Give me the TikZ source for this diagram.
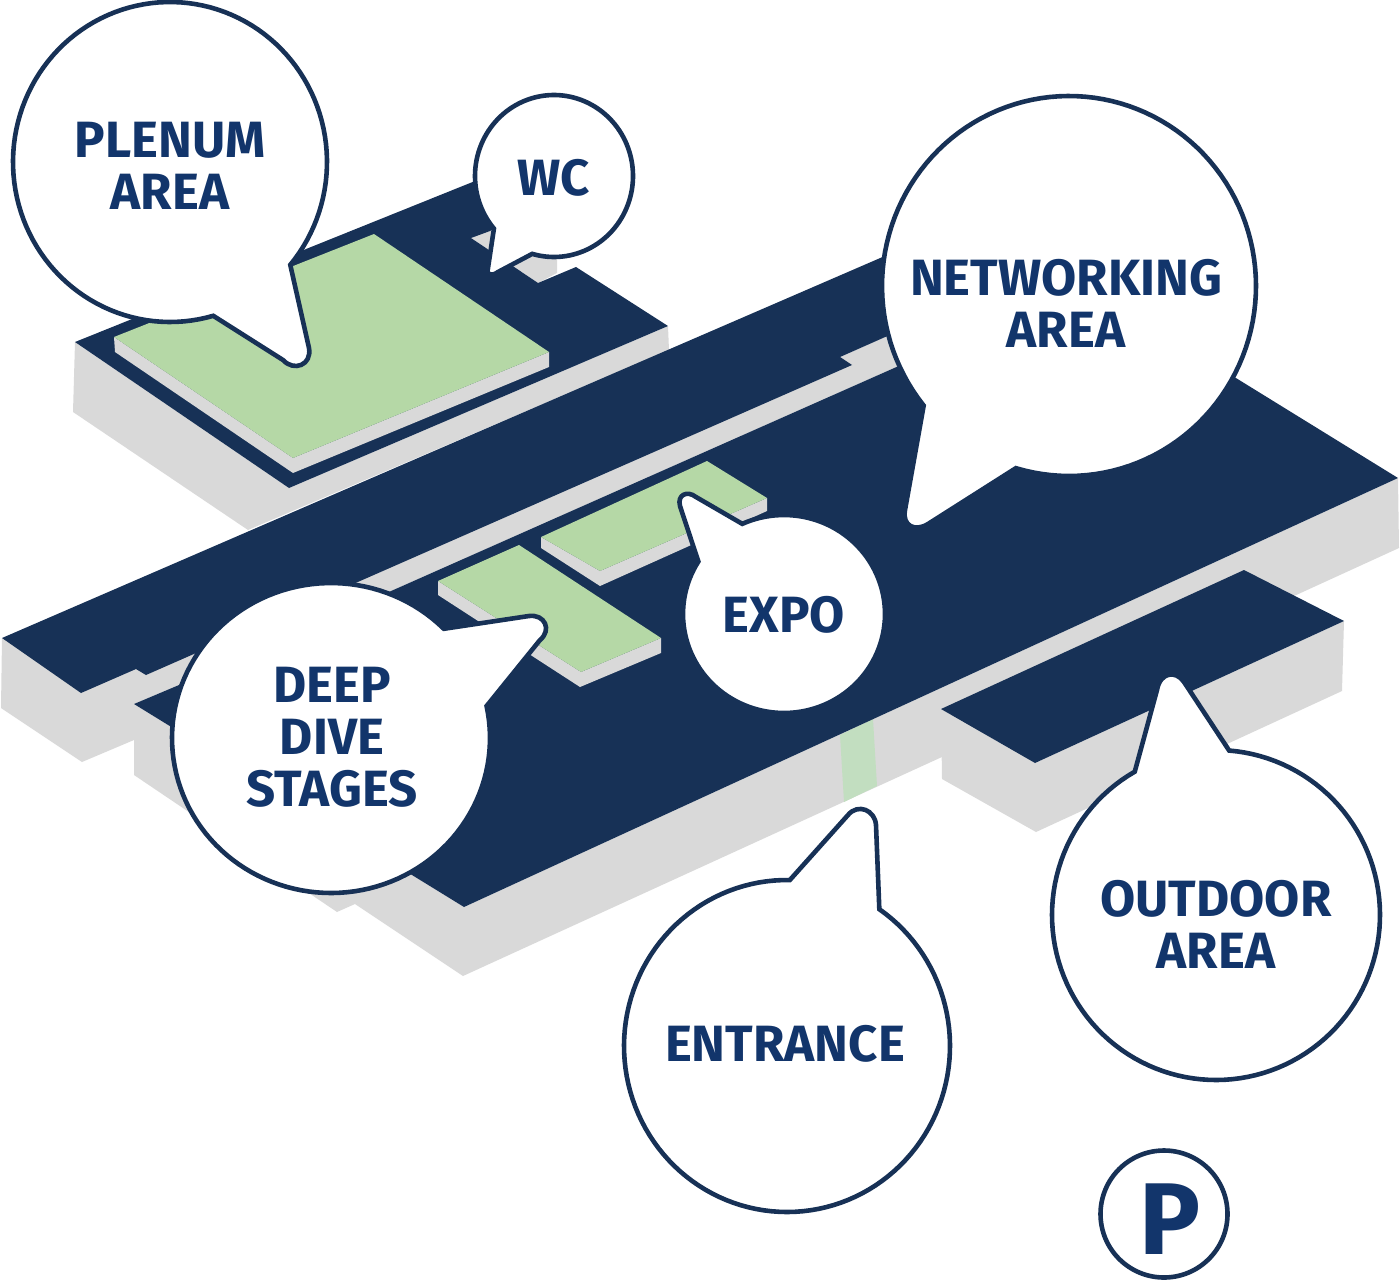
\documentclass[tikz,border=0pt]{standalone}
\usepackage{fontspec}
\setmainfont{Fira Sans}
\definecolor{navyblue}{HTML}{173156}
\definecolor{inkblue}{HTML}{12356B}
\definecolor{wallgrey}{HTML}{D9D9D9}
\definecolor{stagegreen}{HTML}{B5D8A6}
\definecolor{doorgreen}{HTML}{C2DEC0}
\newcommand{\speechbubble}[7]{\draw[bubble] plot[domain=#5:#6, samples=120] ({#1+#3*cos(\x)},{#2+#4*sin(\x)}) #7 -- cycle;}
\begin{document}
\begin{tikzpicture}[
        x=1pt, y=-1pt,
        wall/.style={fill=wallgrey},
        floorplate/.style={fill=navyblue},
        stage/.style={fill=stagegreen},
        door/.style={fill=doorgreen},
        bubble/.style={draw=navyblue, line width=4.6pt, fill=white, line join=miter},
        caption/.style={text=inkblue, font=\bfseries\fontsize{51}{52}\selectfont, align=center, inner sep=0pt}
    ]
        \useasboundingbox (0,0) rectangle (1400,1280);

        % Side walls
        \fill[wall] (75,342) -- (73,412) -- (248,530) -- (669,350) -- (668,326) -- (289,488) -- cycle;
        \fill[wall] (471,238) -- (490,228) -- (557,250) -- (557,273) -- (538,283) -- cycle;
        \fill[wall] (2,638) -- (1,708) -- (82,762) -- (134,740) -- (134,704) -- (179,685) -- (910,361) -- (910,326) -- (100,680) -- cycle;
        \fill[wall] (134,704) -- (134,775) -- (337,912) -- (355,904) -- (463,976) -- (1399,548) -- (1398,478) -- (464,907) -- cycle;
        \fill[wall] (941,709) -- (942,779) -- (1036,832) -- (1342,691) -- (1344,621) -- (1035,763) -- cycle;

        % Entrance strip
        \fill[door] (840,735) -- (873,719) -- (877,786) -- (844,802) -- cycle;

        % Floor plates
        \fill[floorplate] (75,342) -- (490,175) -- (500,225) -- (490,231) -- (471,238) -- (538,283) -- (576,267) -- (668,326) -- (289,488) -- cycle;
        \fill[floorplate] (2,638) -- (975,217) -- (1398,478) -- (464,907) -- (134,704) -- (179,685) -- (910,361) -- (910,326) -- (840,357) -- (852,365) -- (146,675) -- (136,669) -- (81,693) -- cycle;
        \fill[floorplate] (941,709) -- (1244,570) -- (1344,621) -- (1035,763) -- cycle;

        % Plenum platform
        \fill[wall] (114,337) -- (115,352) -- (293,473) -- (549,367) -- (549,352) -- (293,458) -- cycle;
        \fill[stage] (114,337) -- (374,234) -- (549,352) -- (293,458) -- cycle;

        % Expo platform
        \fill[wall] (541,537) -- (541,548) -- (600,586) -- (767,511) -- (767,498) -- (600,571) -- cycle;
        \fill[stage] (541,537) -- (707,461) -- (767,498) -- (600,571) -- cycle;

        % Deep dive platform
        \fill[wall] (438,581) -- (438,595) -- (580,687) -- (661,653) -- (661,638) -- (581,672) -- cycle;
        \fill[stage] (438,581) -- (519,545) -- (661,638) -- (581,672) -- cycle;

        % Bubbles
        \speechbubble{170}{162}{157}{160}{74}{400}{-- (309,348) .. controls (312,365) and (294,372) .. (283,360)}
        \speechbubble{554}{176}{79}{81}{139.5}{466}{-- (498,272) .. controls (491,277) and (486,275) .. (488,268)}
        \speechbubble{1069}{286}{187}{190}{141}{466.5}{-- (928,524) .. controls (915,532) and (902,526) .. (905,510)}
        \speechbubble{784}{614}{101}{99}{245.6}{572}{-- (680,506) .. controls (677,495) and (687,490) .. (696,497)}
        \speechbubble{331}{738}{159}{155}{-11.9}{315.2}{-- (529,616) .. controls (545,614) and (552,630) .. (540,640)}
        \speechbubble{787}{1046}{163}{166}{-55.5}{271}{-- (848,815) .. controls (858,803) and (875,810) .. (876,825)}
        \speechbubble{1216}{915}{164}{165}{-85.4}{240.3}{-- (1157,690) .. controls (1160,672) and (1176,670) .. (1184,682)}

        % Captions
        \node[caption] (plenum) at (170,166) {PLENUM\\AREA};
        \node[caption] (wc) at (554,178) {WC};
        \node[caption] (networking) at (1066,303) {NETWORKING\\AREA};
        \node[caption] (expo) at (784,615) {EXPO};
        \node[caption] (deepdive) at (332,737) {DEEP\\DIVE\\STAGES};
        \node[caption] (entrance) at (785,1044) {ENTRANCE};
        \node[caption] (outdoor) at (1216,924) {OUTDOOR\\AREA};

        % Parking sign
        \node[circle, draw=navyblue, line width=4.6pt, fill=white, minimum size=127pt, inner sep=0pt] (parking) at (1164,1214) {};
        \node[text=inkblue, font=\bfseries\fontsize{102}{102}\selectfont, inner sep=0pt] (parkingP) at (1170,1219) {P};

    \end{tikzpicture}
\end{document}
